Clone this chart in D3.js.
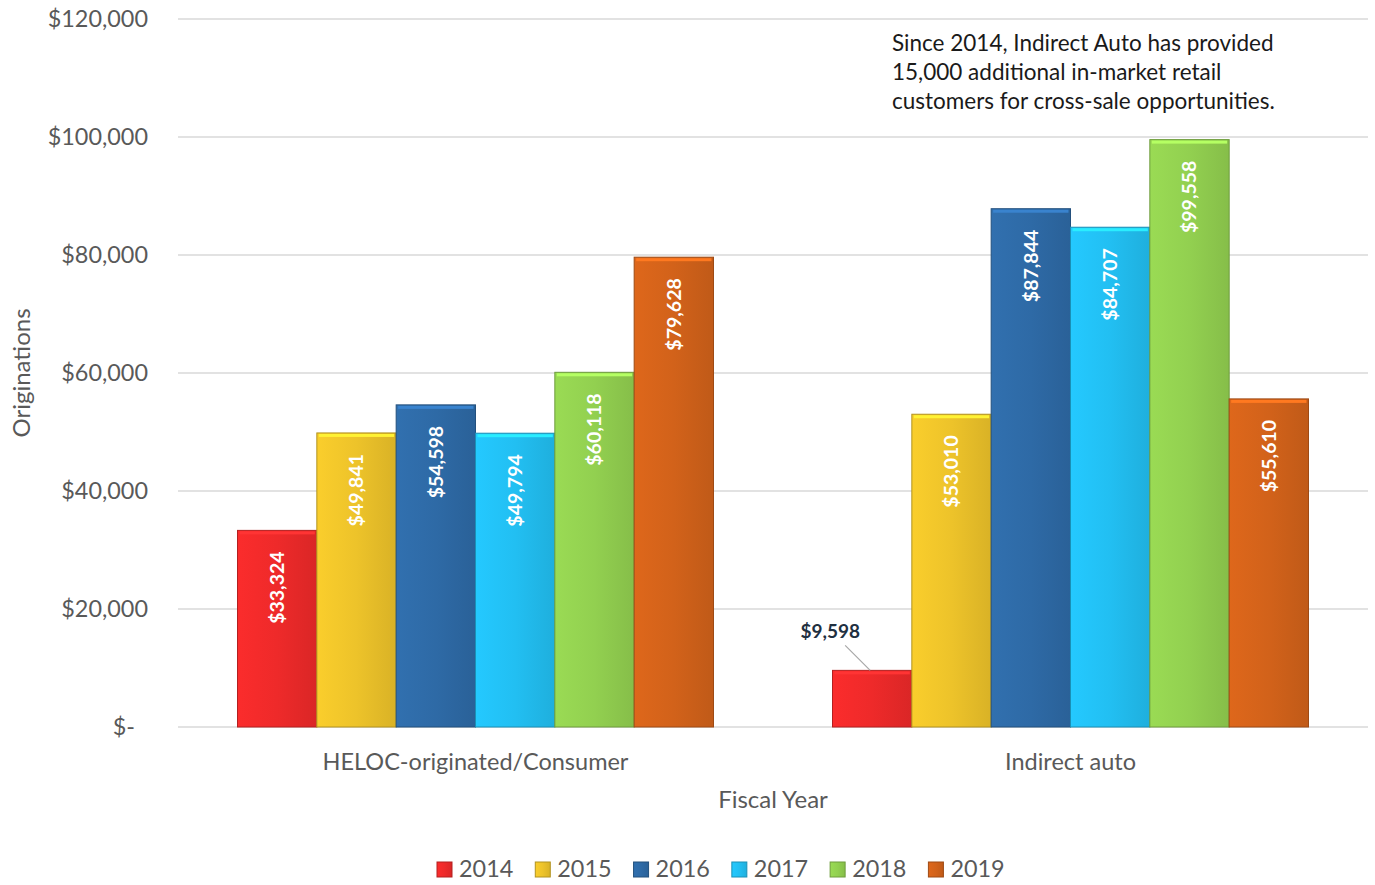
<!DOCTYPE html>
<meta charset="utf-8">
<head>
<title>Originations</title>
<style>
  body { margin: 0; background: #fff; }
  text { font-family: Lato, "Open Sans", sans-serif; }
</style>
<script src="https://d3js.org/d3.v7.min.js"></script>
</head>
<body>
<div id="chart"></div>
<script>
// data
var categories = ["HELOC-originated/Consumer", "Indirect auto"];
var years = ["2014", "2015", "2016", "2017", "2018", "2019"];
var helocValues = [33324, 49841, 54598, 49794, 60118, 79628];
var autoValues = [9598, 53010, 87844, 84707, 99558, 55610];
var yTicks = [0, 20000, 40000, 60000, 80000, 100000, 120000];
var colors = ["#ee2a2a", "#edc32a", "#2e6aa6", "#22bff2", "#92d050", "#d2621a"];
var note = ["Since 2014, Indirect Auto has provided",
            "15,000 additional in-market retail",
            "customers for cross-sale opportunities."];

var W = 1375, H = 885;
var margin = {top: 19, right: 7, bottom: 158, left: 178};
var width = W - margin.left - margin.right,
    height = H - margin.top - margin.bottom;

var svg = d3.select("#chart").append("svg")
    .attr("width", W).attr("height", H);

var g = svg.append("g")
    .attr("transform", "translate(" + margin.left + "," + margin.top + ")");

var x0 = d3.scaleBand().domain(categories).range([0, width])
    .paddingInner(0.2).paddingOuter(0.1);
var x1 = d3.scaleBand().domain(years).range([0, x0.bandwidth()]);
var y = d3.scaleLinear().domain([0, 120000]).range([height, 0]);

var seriesByCat = [helocValues, autoValues];

// gradients for a bevel look
var defs = svg.append("defs");
colors.forEach(function(c, i) {
  var gr = defs.append("linearGradient").attr("id", "grad" + i)
      .attr("x1", 0).attr("x2", 1).attr("y1", 0).attr("y2", 0);
  gr.append("stop").attr("offset", "0%").attr("stop-color", d3.color(c).brighter(0.15));
  gr.append("stop").attr("offset", "50%").attr("stop-color", c);
  gr.append("stop").attr("offset", "100%").attr("stop-color", d3.color(c).darker(0.25));
});

// gridlines
g.selectAll(".grid").data(yTicks).enter().append("line")
    .attr("x1", 0).attr("x2", width)
    .attr("y1", function(d) { return y(d); })
    .attr("y2", function(d) { return y(d); })
    .attr("stroke", "#d9d9d9").attr("stroke-width", 1.5);

// y tick labels
g.selectAll(".ytick").data(yTicks).enter().append("text")
    .attr("x", function(d) { return d === 0 ? -43 : -30; })
    .attr("y", function(d) { return y(d); })
    .attr("dy", "0.35em")
    .attr("text-anchor", "end")
    .attr("fill", "#595959")
    .style("font-size", "23.4px")
    .text(function(d) { return d === 0 ? "$-" : "$" + d3.format(",")(d); });

var fmt = function(v) { return "$" + d3.format(",")(v); };

// bars
var groups = g.selectAll(".cat").data(categories).enter().append("g")
    .attr("transform", function(d) { return "translate(" + x0(d) + ",0)"; });

groups.each(function(cat, ci) {
  var rows = years.map(function(yr, i) { return {year: yr, i: i, v: seriesByCat[ci][i]}; });
  var sel = d3.select(this);
  sel.selectAll("rect").data(rows).enter().append("rect")
      .attr("x", function(d) { return x1(d.year); })
      .attr("width", x1.bandwidth())
      .attr("y", function(d) { return y(d.v); })
      .attr("height", function(d) { return height - y(d.v); })
      .attr("fill", function(d) { return "url(#grad" + d.i + ")"; })
      .attr("stroke", function(d) { return d3.color(colors[d.i]).darker(0.8); })
      .attr("stroke-width", 1);
  // top highlight edge
  sel.selectAll(".hl").data(rows).enter().append("rect")
      .attr("x", function(d) { return x1(d.year) + 2; })
      .attr("width", x1.bandwidth() - 4)
      .attr("y", function(d) { return y(d.v) + 1; })
      .attr("height", 3)
      .attr("fill", function(d) { return d3.color(colors[d.i]).brighter(0.6); });

  // labels inside the bars (rotated)
  sel.selectAll(".lbl").data(rows.filter(function(d) { return y(d.v) < height - 100; }))
    .enter().append("text")
      .attr("transform", function(d) {
        return "translate(" + (x1(d.year) + x1.bandwidth() / 2) + "," + (y(d.v) + 21) + ") rotate(-90)";
      })
      .attr("text-anchor", "end")
      .attr("dy", "0.35em")
      .attr("fill", "#ffffff")
      .style("font-size", "19.5px")
      .style("font-weight", "bold")
      .text(function(d) { return fmt(d.v); });

  // small bar gets label outside with leader line
  rows.filter(function(d) { return y(d.v) >= height - 100; }).forEach(function(d) {
    var bx = x1(d.year) + x1.bandwidth() / 2;
    var by = y(d.v);
    sel.append("line")
        .attr("x1", bx - 27).attr("y1", by - 25)
        .attr("x2", bx - 2).attr("y2", by)
        .attr("stroke", "#a6a6a6").attr("stroke-width", 1.2);
    sel.append("text")
        .attr("x", bx - 42).attr("y", by - 39)
        .attr("text-anchor", "middle")
        .attr("dy", "0.35em")
        .attr("fill", "#1f3041")
        .style("font-size", "19px")
        .style("font-weight", "bold")
        .text(fmt(d.v));
  });
});

// x category labels
g.selectAll(".xlab").data(categories).enter().append("text")
    .attr("x", function(d) { return x0(d) + x0.bandwidth() / 2; })
    .attr("y", height + 35)
    .attr("dy", "0.35em")
    .attr("text-anchor", "middle")
    .attr("fill", "#595959")
    .style("font-size", "23.5px")
    .text(function(d) { return d; });

// axis titles
svg.append("text")
    .attr("x", 773).attr("y", 800)
    .attr("dy", "0.35em")
    .attr("text-anchor", "middle")
    .attr("fill", "#595959")
    .style("font-size", "24px")
    .text("Fiscal Year");

svg.append("text")
    .attr("transform", "translate(22," + 373 + ") rotate(-90)")
    .attr("dy", "0.35em")
    .attr("text-anchor", "middle")
    .attr("fill", "#595959")
    .style("font-size", "24px")
    .text("Originations");

// annotation
svg.append("g").selectAll("text").data(note).enter().append("text")
    .attr("x", 892)
    .attr("y", function(d, i) { return 43 + i * 29; })
    .attr("dy", "0.35em")
    .attr("fill", "#1a1a1a")
    .style("font-size", "22.5px")
    .text(function(d) { return d; });

// legend
var legend = svg.append("g").attr("transform", "translate(437,869)");
var lx = 0;
years.forEach(function(yr, i) {
  var item = legend.append("g").attr("transform", "translate(" + lx + ",0)");
  item.append("rect").attr("x", 0).attr("y", -7).attr("width", 15).attr("height", 15)
      .attr("fill", "url(#grad" + i + ")")
      .attr("stroke", d3.color(colors[i]).darker(0.8)).attr("stroke-width", 1);
  var t = item.append("text").attr("x", 22).attr("y", 0).attr("dy", "0.35em")
      .attr("fill", "#595959").style("font-size", "23.4px").text(yr);
  lx += 22 + t.node().getComputedTextLength() + 22;
});
</script>
</body>
